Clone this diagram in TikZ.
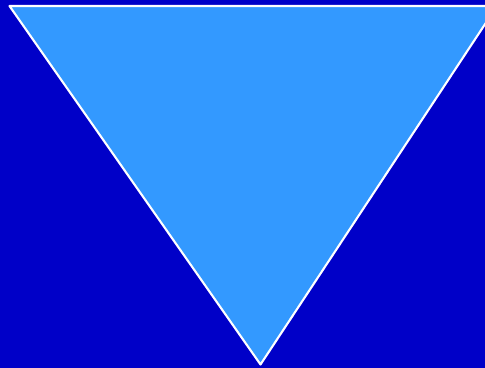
\documentclass[tikz,border=0pt]{standalone}
\usetikzlibrary{positioning}
\definecolor{bgblue}{HTML}{0000C8}
\definecolor{triblue}{HTML}{3399FF}

\begin{document}
\begin{tikzpicture}[x=0.02cm,y=-0.02cm]
  \fill[bgblue] (0,0) rectangle (485,368);
  \useasboundingbox (0,0) rectangle (485,368);
  \clip (0,0) rectangle (485,368);
  \coordinate (L) at (9.5,6);
  \coordinate (R) at (497,6);
  \coordinate (B) at (260.5,364.5);
  \filldraw[fill=triblue,draw=white,line width=1.2pt,line join=round] (L) -- (R) -- (B) -- cycle;
\end{tikzpicture}
\end{document}
